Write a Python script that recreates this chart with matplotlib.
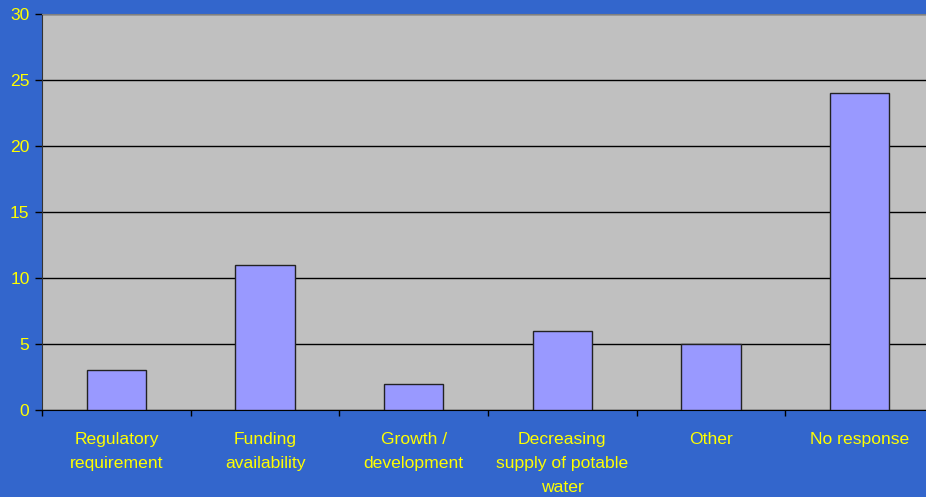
import numpy as np
import matplotlib.pyplot as plt
from matplotlib.ticker import FixedLocator

categories = ["Regulatory\nrequirement", "Funding\navailability", "Growth /\ndevelopment",
              "Decreasing\nsupply of potable\nwater", "Other", "No response"]
counts = [3, 11, 2, 6, 5, 24]
yticks = [0, 5, 10, 15, 20, 25, 30]

plt.rcParams['font.family'] = ['Liberation Sans', 'DejaVu Sans']

fig = plt.figure(figsize=(9.26, 4.97), dpi=100)
fig.patch.set_facecolor('#3366CC')
ax = fig.add_axes([42 / 926, 87 / 497, 892 / 926, 396 / 497])
ax.set_facecolor('#C0C0C0')

x = np.arange(len(categories))
ax.bar(x, counts, width=0.4, color='#9999FF', edgecolor='#222222', linewidth=1, zorder=3)

ax.set_xlim(-0.5, len(categories) - 0.5)
ax.set_ylim(0, 30)
ax.set_yticks(yticks)
ax.yaxis.grid(True, color='black', linewidth=1, zorder=1)

ax.set_xticks(x)
ax.set_xticklabels(categories, color='#FFFF00', fontsize=12.6, linespacing=1.78)
ax.xaxis.set_minor_locator(FixedLocator(np.arange(len(categories) + 1) - 0.5))
ax.tick_params(axis='x', which='major', length=0, pad=15.5)
ax.tick_params(axis='x', which='minor', length=4, width=1, color='black', direction='out')
ax.tick_params(axis='y', labelcolor='#FFFF00', labelsize=12.6, length=5, width=1,
               color='black', pad=4)

for side in ['top', 'right']:
    ax.spines[side].set_color('#808080')
ax.spines['left'].set_color('#333333')
ax.spines['bottom'].set_color('black')

plt.savefig('out.png', facecolor=fig.get_facecolor())
